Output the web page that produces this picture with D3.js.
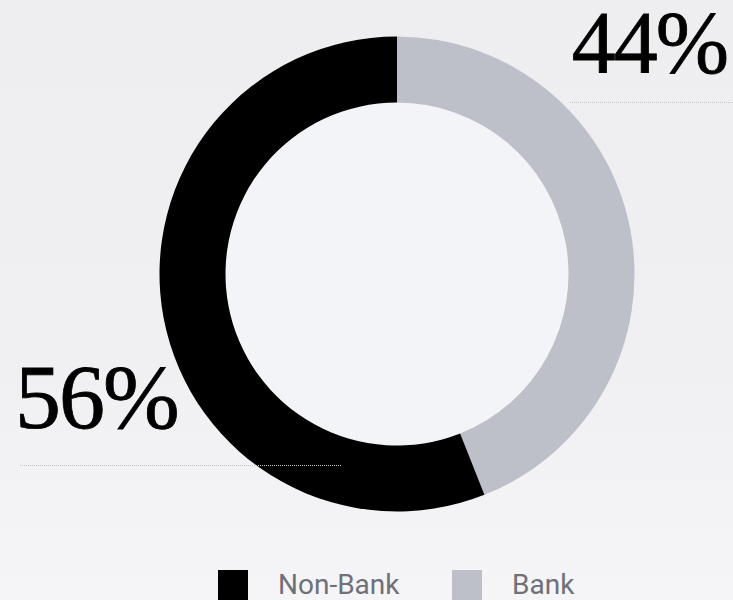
<!DOCTYPE html>
<html>
<head>
<meta charset="utf-8">
<script src="https://cdn.jsdelivr.net/npm/d3@7"></script>
<style>
  html, body { margin: 0; padding: 0; overflow: hidden; }
  body { width: 733px; height: 600px; }
  svg { display: block; }
</style>
</head>
<body>
<div id="chart"></div>
<script>
const categories = ['Non-Bank', 'Bank'];
const shares = [56, 44];
const colors = ['#000000', '#bdc0c9'];

// drawing order: Bank runs clockwise from 12 o'clock, Non-Bank after it
const pieOrder = ['Bank', 'Non-Bank'];

const W = 733, H = 600;
const cx = 397, cy = 274;
const outerR = 237.5, innerR = 171.5;

const svg = d3.select('#chart')
  .append('svg')
  .attr('width', W)
  .attr('height', H);

const defs = svg.append('defs');
const bg = defs.append('linearGradient')
  .attr('id', 'bg')
  .attr('x1', 0).attr('y1', 0).attr('x2', 0).attr('y2', 1);
bg.append('stop').attr('offset', '0%').attr('stop-color', '#eeeef0');
bg.append('stop').attr('offset', '60%').attr('stop-color', '#f0f0f2');
bg.append('stop').attr('offset', '100%').attr('stop-color', '#f5f5f7');

svg.append('rect')
  .attr('width', W)
  .attr('height', H)
  .attr('fill', 'url(#bg)');

const color = d3.scaleOrdinal().domain(categories).range(colors);
const data = pieOrder.map(c => ({ name: c, value: shares[categories.indexOf(c)] }));

const pie = d3.pie().sort(null).value(d => d.value);
const arc = d3.arc().innerRadius(innerR).outerRadius(outerR);

const g = svg.append('g').attr('transform', `translate(${cx},${cy})`);

g.append('circle')
  .attr('r', innerR)
  .attr('fill', '#f3f4f8');

g.selectAll('path.slice')
  .data(pie(data))
  .join('path')
  .attr('class', 'slice')
  .attr('d', arc)
  .attr('fill', d => color(d.data.name));

// percentage labels with dotted leader lines
const labelFont = '"Liberation Serif", "DejaVu Serif", serif';

svg.append('line')
  .attr('x1', 570).attr('x2', W)
  .attr('y1', 102.5).attr('y2', 102.5)
  .attr('stroke', '#c4c4c8')
  .attr('stroke-width', 1)
  .attr('stroke-dasharray', '1,1');

svg.append('line')
  .attr('x1', 20).attr('x2', 341)
  .attr('y1', 465.5).attr('y2', 465.5)
  .attr('stroke', '#c4c4c8')
  .attr('stroke-width', 1)
  .attr('stroke-dasharray', '1,1');

svg.append('text')
  .attr('x', 727)
  .attr('y', 72)
  .attr('text-anchor', 'end')
  .attr('font-family', labelFont)
  .attr('font-size', 88)
  .attr('letter-spacing', -2)
  .attr('stroke', '#000')
  .attr('stroke-width', 0.8)
  .attr('fill', '#000')
  .text(shares[1] + '%');

svg.append('text')
  .attr('x', 15)
  .attr('y', 428)
  .attr('text-anchor', 'start')
  .attr('font-family', labelFont)
  .attr('font-size', 92)
  .attr('letter-spacing', -2)
  .attr('stroke', '#000')
  .attr('stroke-width', 0.8)
  .attr('fill', '#000')
  .text(shares[0] + '%');

// legend
const legendX = [218, 452];
const legend = svg.append('g');
categories.forEach((c, i) => {
  legend.append('rect')
    .attr('x', legendX[i])
    .attr('y', 570)
    .attr('width', 30)
    .attr('height', 30)
    .attr('fill', color(c));
  legend.append('text')
    .attr('x', legendX[i] + 60)
    .attr('y', 594)
    .attr('font-family', 'Roboto, sans-serif')
    .attr('font-size', 28)
    .attr('fill', '#6f7078')
    .text(c);
});
</script>
</body>
</html>
